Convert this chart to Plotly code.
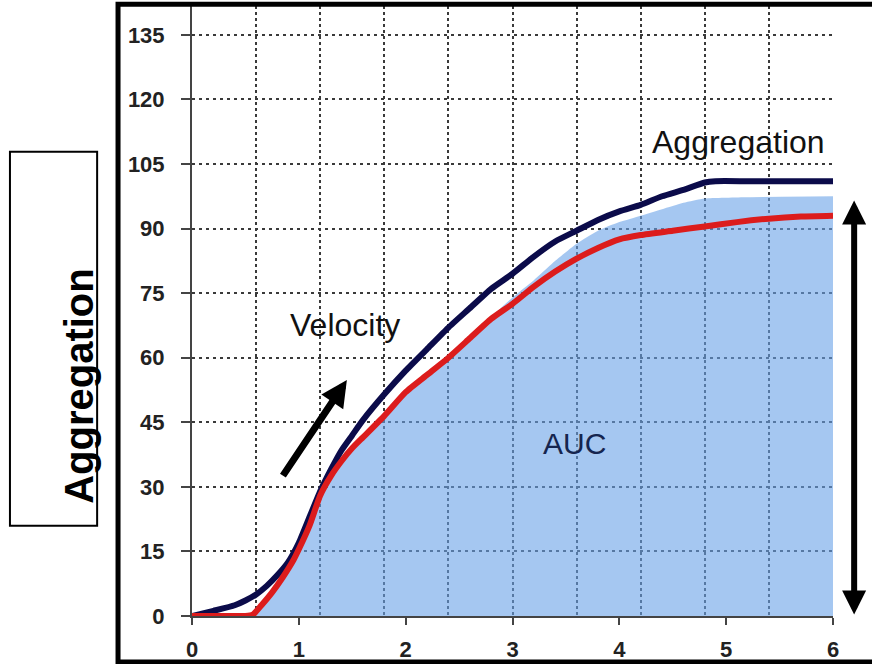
import numpy as np
import plotly.graph_objects as go

# ---- data ----
x_navy = [0, 0.2, 0.4, 0.5, 0.6, 0.7, 0.8, 0.9, 1.0, 1.1, 1.2, 1.3, 1.4, 1.5, 1.6, 1.8, 2.0,
          2.2, 2.4, 2.6, 2.8, 3.0, 3.2, 3.4, 3.6, 3.8, 4.0, 4.2, 4.4, 4.6, 4.8, 4.9, 5.2, 5.6, 6.0]
y_navy = [0, 1.2, 2.5, 3.6, 5, 7, 9.5, 12.5, 17, 23, 29, 34, 38.5, 42, 45.5, 51.5, 57,
          62, 67, 71.5, 76, 79.5, 83.5, 87, 89.5, 92, 94, 95.5, 97.5, 99, 100.7, 101, 101, 101, 101]

x_red = [0, 0.3, 0.5, 0.57, 0.65, 0.75, 0.85, 0.95, 1.0, 1.1, 1.2, 1.3, 1.4, 1.5, 1.6, 1.8, 2.0,
         2.2, 2.4, 2.6, 2.8, 3.0, 3.2, 3.4, 3.6, 3.8, 4.0, 4.2, 4.5, 4.8, 5.1, 5.4, 5.7, 6.0]
y_red = [0, 0, 0, 0.3, 2.5, 5.5, 9, 13, 15.5, 21, 28, 32.5, 36, 39, 41.5, 46.5, 52,
         56, 60, 64.5, 69, 72.5, 76.5, 80, 83, 85.5, 87.5, 88.5, 89.5, 90.5, 91.5, 92.3, 92.8, 93]

x_auc = [0, 0.55, 0.65, 0.75, 0.85, 0.95, 1.0, 1.1, 1.2, 1.3, 1.4, 1.5, 1.6, 1.8, 2.0,
         2.2, 2.4, 2.6, 2.8, 3.0, 3.2, 3.4, 3.6, 3.8, 4.0, 4.2, 4.4, 4.6, 4.8, 5.2, 6.0]
y_auc = [0, 0, 2.5, 5.5, 9, 13, 15.5, 21, 28, 32.5, 36, 39, 41.5, 46.5, 52,
         56, 60.5, 65, 69.5, 74, 78, 82.5, 86.5, 89.5, 91.5, 93, 94.5, 96, 97, 97.3, 97.5]

x_ticks = [0, 1, 2, 3, 4, 5, 6]
y_ticks = [0, 15, 30, 45, 60, 75, 90, 105, 120, 135]
x_grid = list(np.round(np.arange(0.6, 5.5, 0.6), 2))

FONT = "Arial, Liberation Sans, sans-serif"
NAVY = "#0b0b4a"
RED = "#dc1c1c"

fig = go.Figure()
fig.add_trace(go.Scatter(x=x_auc, y=y_auc, mode="lines", fill="tozeroy",
                         fillcolor="rgba(105,162,232,0.6)",
                         line=dict(width=0, shape="spline", smoothing=0.5),
                         hoverinfo="skip", showlegend=False))
fig.add_trace(go.Scatter(x=x_navy, y=y_navy, mode="lines",
                         line=dict(color=NAVY, width=6, shape="spline", smoothing=0.5),
                         showlegend=False))
fig.add_trace(go.Scatter(x=x_red, y=y_red, mode="lines",
                         line=dict(color=RED, width=6, shape="spline", smoothing=0.5),
                         showlegend=False))
# helper trace so the labelled x axis exists
fig.add_trace(go.Scatter(x=[0, 6], y=[None, None], xaxis="x2", mode="lines",
                         showlegend=False, hoverinfo="skip"))

fig.update_layout(
    width=872, height=664, autosize=False,
    margin=dict(l=192, r=39, t=6, b=48),
    paper_bgcolor="white", plot_bgcolor="white",
    font=dict(family=FONT, color="#222"),
    xaxis=dict(range=[0, 6], tickvals=x_grid, showticklabels=False, ticks="",
               showgrid=True, gridcolor="#3a3a3a", gridwidth=2, griddash="dot",
               zeroline=False, showline=False, automargin=False),
    xaxis2=dict(range=[0, 6], overlaying="x", anchor="y", side="bottom",
                tickvals=x_ticks, ticks="outside", ticklen=7, tickwidth=2, tickcolor="#444",
                showline=True, linecolor="#444", linewidth=2, showgrid=False, zeroline=False,
                tickfont=dict(family=FONT, size=22, color="#222", weight="bold"),
                ticklabelstandoff=6, automargin=False),
    yaxis=dict(range=[0, 141.7], tickvals=y_ticks, ticks="outside", ticklen=9, tickwidth=2,
               tickcolor="#444", showline=True, linecolor="#444", linewidth=2,
               showgrid=True, gridcolor="#3a3a3a", gridwidth=2, griddash="3px,4px",
               zeroline=False, automargin=False,
               tickfont=dict(family=FONT, size=22, color="#222", weight="bold"),
               ticklabelstandoff=12),
)

# outer frame (left, top, bottom)
fig.add_shape(type="rect", xref="paper", yref="paper", x0=-0.1154, x1=1.08, y0=-0.0756, y1=1.003,
              line=dict(color="black", width=5), fillcolor="rgba(0,0,0,0)", layer="above")
# boxed y label
fig.add_shape(type="rect", xref="paper", yref="paper", x0=-0.284, x1=-0.148, y0=0.148, y1=0.761,
              line=dict(color="black", width=2), fillcolor="rgba(0,0,0,0)")
fig.add_annotation(xref="paper", yref="paper", x=-0.214, y=0.377, text="<b>Aggregation</b>",
                   textangle=-90, showarrow=False, font=dict(family=FONT, size=40, color="black"))

# text labels
fig.add_annotation(x=5.12, y=110, text="Aggregation", showarrow=False,
                   font=dict(family=FONT, size=32, color="#111"))
fig.add_annotation(x=1.43, y=67.5, text="Velocity", showarrow=False,
                   font=dict(family=FONT, size=32, color="#111"))
fig.add_annotation(x=3.58, y=40, text="AUC", showarrow=False,
                   font=dict(family=FONT, size=30, color="#15254f"))

# velocity arrow
fig.add_annotation(x=1.45, y=54.8, ax=-65, ay=97, text="", showarrow=True,
                   arrowhead=2, arrowsize=0.75, arrowwidth=7, arrowcolor="black")
# AUC double arrow
fig.add_annotation(xref="paper", yref="y", x=1.033, y=96.5, axref="pixel", ayref="y",
                   ax=0, ay=0, text="", showarrow=True, arrowside="end+start",
                   arrowhead=2, startarrowhead=2, arrowsize=0.8, startarrowsize=0.8,
                   arrowwidth=6, arrowcolor="black")

fig.write_html("out.html", config={"displayModeBar": False, "responsive": False},
               post_script="document.body.style.margin='0';document.body.style.overflow='hidden';")
